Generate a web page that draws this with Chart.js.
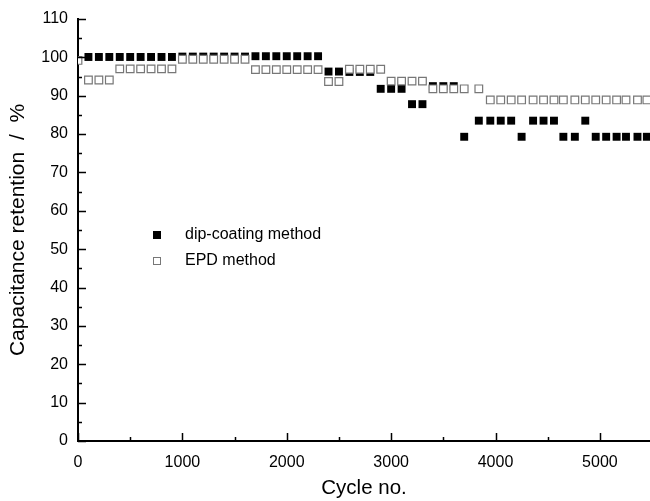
<!DOCTYPE html>
<html>
<head>
<meta charset="utf-8">
<script src="https://cdn.jsdelivr.net/npm/chart.js@4/dist/chart.umd.min.js"></script>
<style>
  html, body { margin: 0; padding: 0; background: #fff; }
  #wrap { width: 650px; height: 501px; }
</style>
</head>
<body>
<div id="wrap"><canvas id="retentionChart" width="650" height="501"></canvas></div>
<script>
// values
const dipCycles = [100, 200, 300, 400, 500, 600, 700, 800, 900,
    1000, 1100, 1200, 1300, 1400, 1500, 1600, 1700, 1800, 1900, 2000, 2100, 2200, 2300,
    2400, 2500, 2600, 2700, 2800, 2900, 3000, 3100, 3200, 3300, 3400, 3500, 3600, 3700,
    3840, 3950, 4050, 4150, 4250, 4360, 4460, 4560, 4650, 4760, 4860, 4960, 5060, 5160, 5250, 5360, 5450];
const dipRetention = [100.1, 100.1, 100.1, 100.1, 100.1, 100.1, 100.1, 100.1, 100.1,
    100.2, 100.2, 100.2, 100.2, 100.2, 100.2, 100.2, 100.3, 100.3, 100.3, 100.3, 100.3, 100.3, 100.3,
    96.3, 96.3, 96.2, 96.2, 96.2, 91.8, 91.8, 91.8, 87.8, 87.8, 92.5, 92.5, 92.5, 79.3,
    83.5, 83.5, 83.5, 83.5, 79.3, 83.5, 83.5, 83.5, 79.3, 79.3, 83.5, 79.3, 79.3, 79.3, 79.3, 79.3, 79.3];

const epdCycles = [0, 100, 200, 300, 400, 500, 600, 700, 800, 900,
    1000, 1100, 1200, 1300, 1400, 1500, 1600, 1700, 1800, 1900, 2000, 2100, 2200, 2300,
    2400, 2500, 2600, 2700, 2800, 2900, 3000, 3100, 3200, 3300, 3400, 3500, 3600, 3700,
    3840, 3950, 4050, 4150, 4250, 4360, 4460, 4560, 4650, 4760, 4860, 4960, 5060, 5160, 5250, 5360, 5450];
const epdRetention = [99.2, 94.1, 94.1, 94.1, 97.0, 97.0, 97.0, 97.0, 97.0, 97.0,
    99.5, 99.5, 99.5, 99.5, 99.5, 99.5, 99.5, 96.8, 96.8, 96.8, 96.8, 96.8, 96.8, 96.8,
    93.7, 93.7, 96.9, 96.9, 96.9, 96.9, 93.8, 93.8, 93.8, 93.8, 91.8, 91.8, 91.8, 91.8,
    91.8, 88.9, 88.9, 88.9, 88.9, 88.9, 88.9, 88.9, 88.9, 88.9, 88.9, 88.9, 88.9, 88.9, 88.9, 88.9, 88.9];

const seriesNames = ['dip-coating method', 'EPD method'];
const xTicks = [0, 1000, 2000, 3000, 4000, 5000];
const yTicks = [0, 10, 20, 30, 40, 50, 60, 70, 80, 90, 100, 110];

const FONT = "'Liberation Sans', Arial, sans-serif";

function toPoints(xs, ys) {
    return xs.map((x, i) => ({ x: x, y: ys[i] }));
}

// inward major/minor ticks and the in-plot legend
const axisDecor = {
    id: 'axisDecor',
    afterDraw(chart) {
        const ctx = chart.ctx;
        const xs = chart.scales.x;
        const ys = chart.scales.y;
        const area = chart.chartArea;
        ctx.save();
        ctx.strokeStyle = '#000';
        ctx.lineWidth = 1.5;
        ctx.beginPath();
        for (let v = 0; v <= 110; v += 5) {
            const py = Math.round(ys.getPixelForValue(v)) + 0.5;
            const len = v % 10 === 0 ? 8 : 4;
            ctx.moveTo(area.left, py);
            ctx.lineTo(area.left + len, py);
        }
        for (let v = 0; v <= 5500; v += 500) {
            const px = Math.round(xs.getPixelForValue(v)) + 0.5;
            if (px > area.right) break;
            const len = v % 1000 === 0 ? 8 : 4;
            ctx.moveTo(px, area.bottom);
            ctx.lineTo(px, area.bottom - len);
        }
        ctx.stroke();

        // legend
        const rows = [
            { y: 235, fill: '#000', stroke: '#000' },
            { y: 261, fill: '#fff', stroke: '#777' }
        ];
        ctx.font = '16px ' + FONT;
        ctx.textBaseline = 'middle';
        rows.forEach((r, i) => {
            ctx.fillStyle = r.fill;
            ctx.strokeStyle = r.stroke;
            ctx.lineWidth = 1;
            ctx.fillRect(153, r.y - 4, 8, 8);
            ctx.strokeRect(153.5, r.y - 3.5, 7, 7);
            ctx.fillStyle = '#000';
            ctx.fillText(seriesNames[i], 185, r.y);
        });
        ctx.restore();
    }
};

const ctx = document.getElementById('retentionChart').getContext('2d');

const myChart = new Chart(ctx, {
    type: 'scatter',
    data: {
        datasets: [
            {
                label: seriesNames[0],
                data: toPoints(dipCycles, dipRetention),
                pointStyle: 'rect',
                pointRadius: 5.6,
                backgroundColor: '#000',
                borderColor: '#000',
                borderWidth: 0,
                order: 2
            },
            {
                label: seriesNames[1],
                data: toPoints(epdCycles, epdRetention),
                pointStyle: 'rect',
                pointRadius: 5.4,
                backgroundColor: '#fff',
                borderColor: '#777',
                borderWidth: 1.2,
                order: 1
            }
        ]
    },
    options: {
        responsive: false,
        animation: false,
        events: [],
        layout: { autoPadding: false, padding: { top: 19, right: 0, left: 0, bottom: 0 } },
        plugins: {
            legend: { display: false },
            tooltip: { enabled: false }
        },
        scales: {
            x: {
                type: 'linear',
                min: 0,
                max: 5480,
                afterBuildTicks: scale => { scale.ticks = xTicks.map(v => ({ value: v })); },
                afterFit: scale => {
                    scale.height = 60;
                    scale.paddingLeft = 0;
                    scale.paddingRight = 0;
                },
                grid: { display: false },
                border: { display: true, color: '#000', width: 2 },
                ticks: {
                    color: '#000',
                    padding: 4,
                    maxRotation: 0,
                    callback: v => String(v),
                    font: { family: FONT, size: 16 }
                },
                title: {
                    display: true,
                    text: 'Cycle no.',
                    color: '#000',
                    padding: { top: 8, bottom: 0 },
                    font: { family: FONT, size: 20.5 }
                }
            },
            y: {
                type: 'linear',
                min: 0,
                max: 110,
                afterBuildTicks: scale => { scale.ticks = yTicks.map(v => ({ value: v })); },
                afterFit: scale => { scale.width = 78; },
                grid: { display: false },
                border: { display: true, color: '#000', width: 2 },
                ticks: {
                    color: '#000',
                    padding: 2,
                    callback: v => String(v),
                    font: { family: FONT, size: 16 }
                },
                title: {
                    display: true,
                    text: 'Capacitance retention  /  %',
                    color: '#000',
                    padding: { top: 6, bottom: 0 },
                    font: { family: FONT, size: 21 }
                }
            }
        }
    },
    plugins: [axisDecor]
});
</script>
</body>
</html>
